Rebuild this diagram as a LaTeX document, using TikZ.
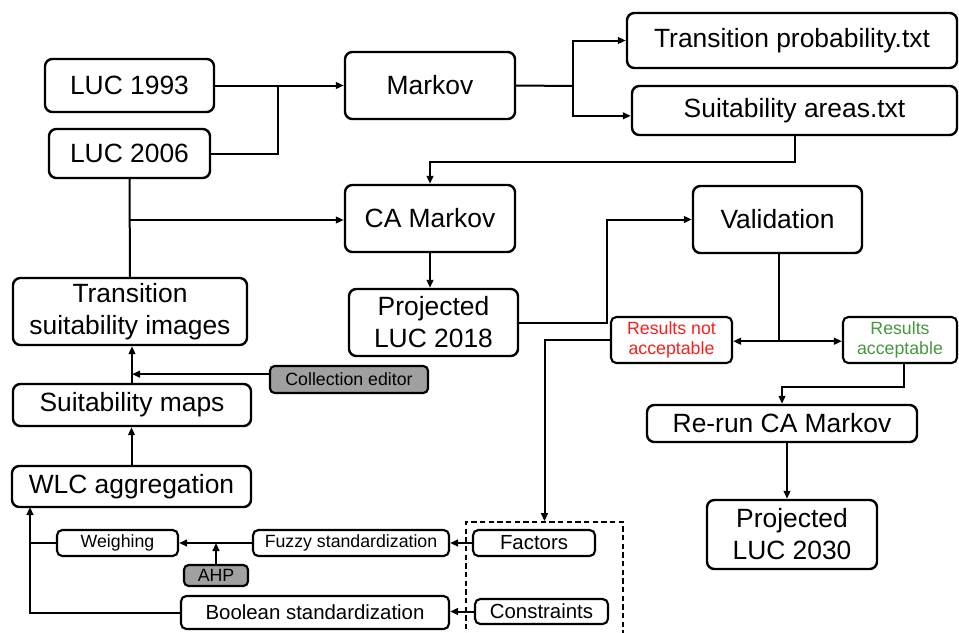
\documentclass[tikz,border=0pt]{standalone}
\usepackage{fontspec}
\setmainfont{Liberation Sans}
\usetikzlibrary{arrows.meta,calc}
\definecolor{boxgray}{RGB}{160,160,160}
\definecolor{resred}{RGB}{250,30,30}
\definecolor{resgreen}{RGB}{70,150,60}
\newcommand\fbig{\fontsize{19.8}{24}\selectfont}
\newcommand\fsmall{\fontsize{13.3}{15}\selectfont}
\newcommand\fmid{\fontsize{15.3}{17}\selectfont}
\newcommand\bx[7][]{\node[box,#1,minimum width={(#5-#3)*0.75pt},minimum height={(#6-#4)*0.75pt}] (#2) at ({(#3+#5)/2},{(#4+#6)/2}) {#7};}
\begin{document}
\begin{tikzpicture}[x=0.75pt,y=-0.75pt,
  box/.style={draw,rounded corners=5.5pt,line width=1.8pt,inner sep=0pt,align=center,font=\fbig},
  smallbox/.style={font=\fsmall,rounded corners=4pt,line width=1.6pt},
  midbox/.style={font=\fmid,rounded corners=4pt,line width=1.6pt},
  graybox/.style={fill=boxgray,font=\fsmall,rounded corners=3.5pt,line width=1.6pt},
  link/.style={line width=1.5pt},
  arr/.style={link,-{Triangle[length=6pt,width=5pt]}}]
\clip (0,0) rectangle (959,632);
% nodes
\bx{l93}{45}{59}{214}{112}{LUC 1993}
\bx{l06}{49}{129}{210}{178}{LUC 2006}
\bx{markov}{345}{52}{515}{119}{Markov}
\bx{tp}{627}{13}{957}{68}{Transition probability.txt}
\bx{sa}{632}{86}{957}{135}{Suitability areas.txt}
\bx{ca}{345}{185}{515}{252}{CA Markov}
\bx{tsi}{13}{278}{247}{345}{Transition\\suitability images}
\bx{p18}{349}{289}{518}{356}{Projected\\LUC 2018}
\bx{val}{693}{186}{862}{253}{Validation}
\bx[smallbox,text=resred]{rna}{611}{317}{732}{363}{Results not\\acceptable}
\bx[smallbox,text=resgreen]{ra}{843}{317}{957}{363}{Results\\acceptable}
\bx[graybox]{ce}{270}{366}{428}{393}{Collection editor}
\bx{sm}{13}{384}{251}{426}{Suitability maps}
\bx{rr}{647}{405}{917}{442}{Re-run CA Markov}
\bx{wlc}{12}{466}{251}{507}{WLC aggregation}
\bx{p30}{707}{500}{877}{569}{Projected\\LUC 2030}
\node[draw,dash pattern=on 4pt off 2.5pt,line width=1.2pt,minimum width={157*0.75pt},minimum height={130*0.75pt},inner sep=0pt] (grp) at (544.5,587) {};
\bx[midbox]{fac}{473}{530}{595}{556}{Factors}
\bx[midbox]{con}{475}{599}{608}{624}{Constraints}
\bx[smallbox]{fuz}{253}{530}{449}{556}{Fuzzy standardization}
\bx[smallbox]{wei}{57}{530}{178}{556}{Weighing}
\bx[graybox]{ahp}{184}{565}{248}{586}{AHP}
\bx[midbox]{bool}{181}{596}{449}{629}{Boolean standardization}
% junctions
\coordinate (j1) at (278,86);
\coordinate (j2) at (573,86);
\coordinate (j3) at (130,220);
\coordinate (j5) at (30,507);
% connectors
\draw[arr] (l93.east) -- (markov.west);
\draw[link] (l06.east) -| (j1);
\draw[link] (markov.east) -- (j2);
\draw[arr] (j2) |- (tp.west);
\draw[arr] (j2) |- ([yshift=-4pt]sa.west);
\draw[arr] (sa.south) -- ++(0,26) -| (ca.north);
\draw[link] (l06.south) -- (tsi.north);
\draw[arr] (j3) -- (j3 -| ca.west);
\draw[arr] (ca.south) -- (ca.south |- p18.north);
\draw[arr] (p18.east) -- ++(88,0) |- (val.west);
\draw[link] ([xshift=1pt]val.south) -- ++(0,87) coordinate (j4);
\draw[arr] (j4) -- (j4 -| rna.east);
\draw[arr] (j4) -- (j4 -| ra.west);
\draw[arr] (rna.west) -| (grp.north);
\draw[arr] ([xshift=3pt]ra.south) -- ++(0,23) -| (rr.north);
\draw[arr] (rr.south -| 787,0) -- (p30.north -| 787,0);
\draw[arr] (wlc.north) -- (wlc.north |- sm.south);
\draw[arr] (sm.north) -- (sm.north |- tsi.south);
\draw[arr] ([yshift=4pt]ce.west) -- ([yshift=4pt]ce.west -| sm.north);
\draw[arr] (fac.west) -- (fuz.east);
\draw[arr] (con.west) -- (con.west -| bool.east);
\draw[arr] (fuz.west) -- (wei.east);
\draw[arr] (ahp.north) -- (ahp.north |- fuz.west);
\draw[link] (wei.west) -- (wei.west -| j5);
\draw[arr] (bool.west) -| (j5);
\end{tikzpicture}
\end{document}
